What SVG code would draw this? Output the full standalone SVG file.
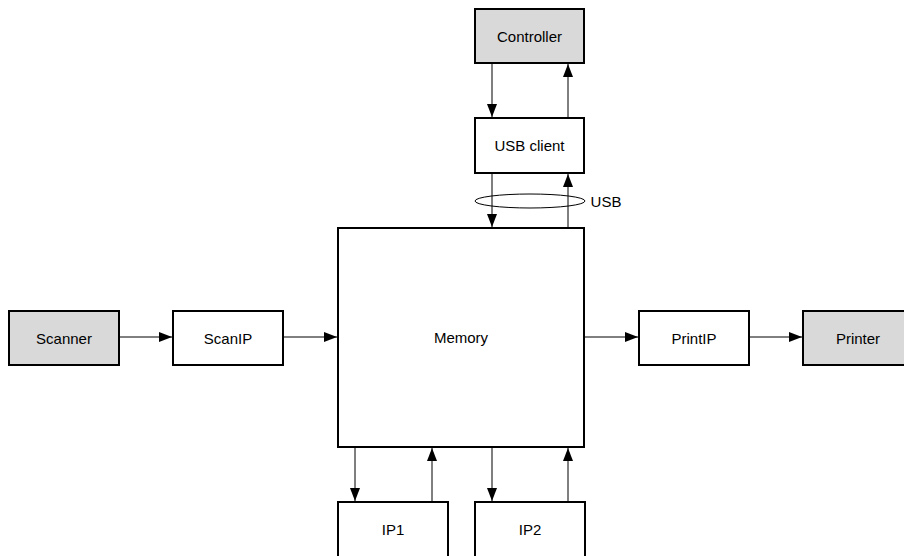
<svg xmlns="http://www.w3.org/2000/svg" width="904" height="556" viewBox="0 0 904 556">
  <defs>
    <marker id="arrow" markerWidth="13" markerHeight="10" refX="13" refY="5" orient="auto" markerUnits="userSpaceOnUse">
      <path d="M0,0 L13,5 L0,10 Z" fill="#000"/>
    </marker>
    <style>
      .box { fill: #fff; stroke: #000; stroke-width: 2; }
      .ext { fill: #d9d9d9; stroke: #000; stroke-width: 2; }
      .lbl { font-family: "Liberation Sans", Arial, sans-serif; font-size: 15px; fill: #000; text-anchor: middle; dominant-baseline: central; }
      .wire { stroke: #000; stroke-width: 1; fill: none; marker-end: url(#arrow); }
      .bus { stroke: #000; stroke-width: 1; fill: none; }
    </style>
  </defs>
  <rect width="904" height="556" fill="#fff"/>

  <g id="controller">
    <rect class="ext" x="475" y="9" width="109" height="54"/>
    <text class="lbl" x="529.5" y="36">Controller</text>
  </g>
  <g id="usb-client">
    <rect class="box" x="475" y="118" width="109" height="55"/>
    <text class="lbl" x="529.5" y="145.5">USB client</text>
  </g>
  <g id="memory">
    <rect class="box" x="338" y="228" width="246" height="219"/>
    <text class="lbl" x="461" y="337">Memory</text>
  </g>
  <g id="scanner">
    <rect class="ext" x="9" y="311" width="110" height="54"/>
    <text class="lbl" x="64" y="338">Scanner</text>
  </g>
  <g id="scanip">
    <rect class="box" x="173" y="311" width="110" height="54"/>
    <text class="lbl" x="228" y="338">ScanIP</text>
  </g>
  <g id="printip">
    <rect class="box" x="639" y="311" width="110" height="54"/>
    <text class="lbl" x="694" y="338">PrintIP</text>
  </g>
  <g id="printer">
    <rect class="ext" x="803" y="311" width="110" height="54"/>
    <text class="lbl" x="858" y="338">Printer</text>
  </g>
  <g id="ip1">
    <rect class="box" x="338" y="502" width="110" height="70"/>
    <text class="lbl" x="393" y="529">IP1</text>
  </g>
  <g id="ip2">
    <rect class="box" x="475" y="502" width="110" height="70"/>
    <text class="lbl" x="530" y="529">IP2</text>
  </g>

  <g id="connectors">
    <!-- controller <-> usb client -->
    <line class="wire" x1="492" y1="64" x2="492" y2="117"/>
    <line class="wire" x1="568" y1="117" x2="568" y2="64"/>
    <!-- usb client <-> memory -->
    <line class="wire" x1="492" y1="174" x2="492" y2="227"/>
    <line class="wire" x1="568" y1="227" x2="568" y2="174"/>
    <ellipse class="bus" cx="530" cy="201" rx="55" ry="7"/>
    <text class="lbl" x="606" y="201">USB</text>
    <!-- scan path -->
    <line class="wire" x1="120" y1="337" x2="172" y2="337"/>
    <line class="wire" x1="284" y1="337" x2="337" y2="337"/>
    <!-- print path -->
    <line class="wire" x1="585" y1="337" x2="638" y2="337"/>
    <line class="wire" x1="750" y1="337" x2="802" y2="337"/>
    <!-- memory <-> IP1 / IP2 -->
    <line class="wire" x1="355" y1="448" x2="355" y2="501"/>
    <line class="wire" x1="432" y1="501" x2="432" y2="448"/>
    <line class="wire" x1="492" y1="448" x2="492" y2="501"/>
    <line class="wire" x1="568" y1="501" x2="568" y2="448"/>
  </g>
</svg>
